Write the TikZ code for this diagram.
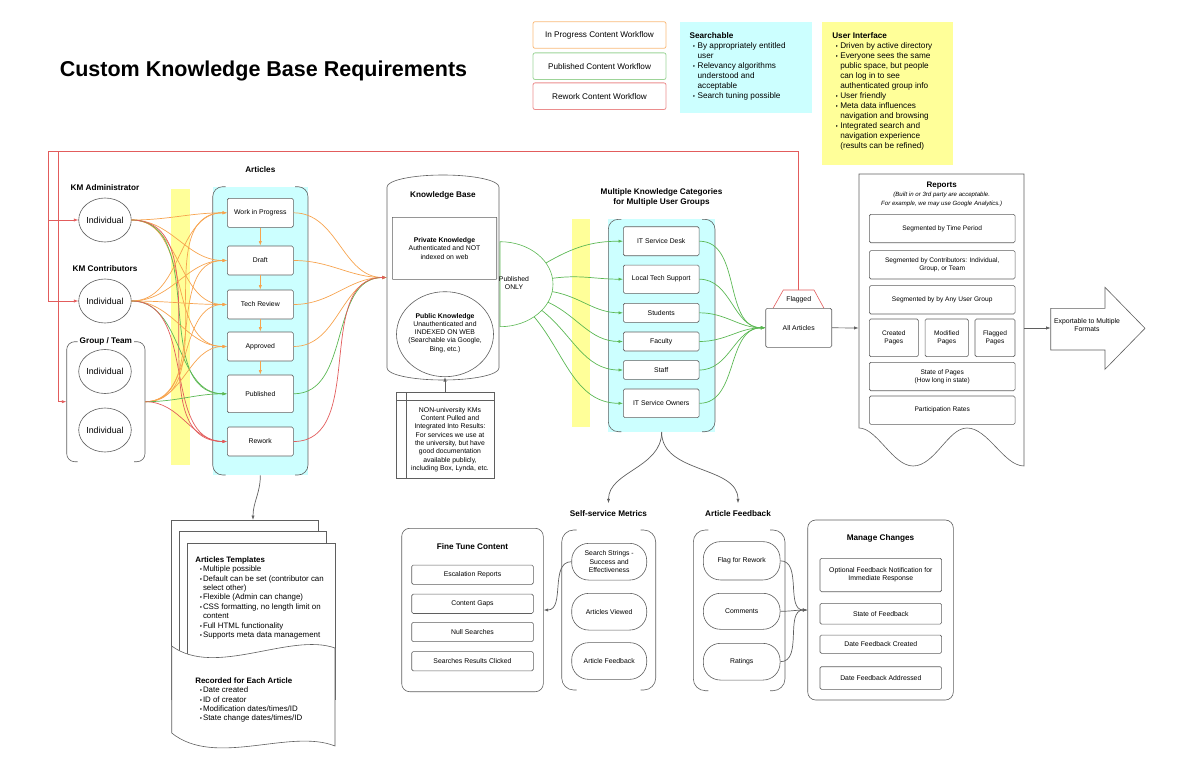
\documentclass[tikz,border=0pt]{standalone}
\usepackage{fontspec}
\setmainfont{Liberation Sans}
\newfontfamily\djv{DejaVu Sans}
\usetikzlibrary{arrows.meta,shapes.geometric}
\definecolor{orng}{RGB}{247,163,78}
\definecolor{grn}{RGB}{92,184,84}
\definecolor{rd}{RGB}{226,92,92}
\definecolor{cyf}{RGB}{204,255,255}
\definecolor{yel}{RGB}{255,255,153}
\definecolor{bord}{RGB}{95,95,95}
\newcommand\fsm{\fontsize{6.85}{8.3}\selectfont}
\newcommand\frp{\fontsize{6.6}{8.3}\selectfont}
\newcommand\fmd{\fontsize{8.2}{10}\selectfont}
\newcommand\fhd{\fontsize{8.2}{10.4}\selectfont\bfseries}
\newcommand\ftp{\fontsize{7.9}{9.4}\selectfont}
\newcommand\tri{{\djv\fontsize{5.5}{5}\selectfont ‣}}
\newcommand\bA{\hspace*{3pt}\makebox[5pt][l]{\tri}}
\newcommand\cA{\hspace*{8pt}}
\newcommand\bB{\hspace*{4.3pt}\makebox[3.4pt][l]{\tri}}
\newcommand\cB{\hspace*{7.7pt}}
\newcommand\bracketpair[5]{%
  \draw[bord,rounded corners=#5pt] (#1+#5+3,#2) -- (#1,#2) -- (#1,#4) -- (#1+#5+3,#4);
  \draw[bord,rounded corners=#5pt] (#3-#5-3,#2) -- (#3,#2) -- (#3,#4) -- (#3-#5-3,#4);}
\begin{document}
\begin{tikzpicture}[x=1pt,y=-1pt,line width=0.6pt,
  >={Latex[length=4.5pt,width=3.2pt]},
  abox/.style={draw=bord,fill=white,rounded corners=1.5pt,font=\fsm,align=center,inner sep=1pt},
  rbox/.style={abox,font=\frp,minimum width=145.7pt},
  hd/.style={font=\fhd,align=center},
  indiv/.style={draw=bord,fill=white,ellipse,minimum width=48pt,minimum height=44pt,inner sep=0pt,font=\fontsize{8.8}{10}\selectfont},
  stad/.style={draw=bord,fill=white,rounded corners=17pt,font=\fsm,align=center,inner sep=1pt},
  legend/.style={rounded corners=2pt,minimum width=133pt,minimum height=26.6pt,font=\fmd,line width=0.8pt},
  oar/.style={draw=orng,line width=0.7pt,->},
  gar/.style={draw=grn,line width=0.7pt,->},
  rar/.style={draw=rd,line width=0.7pt,->},
  kar/.style={draw=bord,line width=0.7pt,->}]
\useasboundingbox (0,0) rectangle (1200,776);

% ---------- title and legend ----------
\node[font=\fontsize{21.5}{24}\selectfont\bfseries] (title) at (263.5,70.7) {Custom Knowledge Base Requirements};
\node[legend,draw=orng!75] (lg1) at (599.5,35) {In Progress Content Workflow};
\node[legend,draw=grn!60] (lg2) at (599.5,66.2) {Published Content Workflow};
\node[legend,draw=rd!70] (lg3) at (599.5,96.2) {Rework Content Workflow};

\node[fill=cyf,minimum width=132pt,minimum height=91pt,inner sep=0] (srch) at (746,67.2) {};
\node[anchor=north west,inner sep=0,font=\fmd,align=left] (srchT) at (689.3,32.4)
 {\textbf{Searchable}\\\bA By appropriately entitled\\\cA user\\\bA Relevancy algorithms\\\cA understood and\\\cA acceptable\\\bA Search tuning possible};

\node[fill=yel,minimum width=131.3pt,minimum height=143.3pt,inner sep=0] (ui) at (887.65,93.35) {};
\node[anchor=north west,inner sep=0,font=\fmd,align=left] (uiT) at (832,32.4)
 {\textbf{User Interface}\\\bA Driven by active directory\\\bA Everyone sees the same\\\cA public space, but people\\\cA can log in to see\\\cA authenticated group info\\\bA User friendly\\\bA Meta data influences\\\cA navigation and browsing\\\bA Integrated search and\\\cA navigation experience\\\cA (results can be refined)};

% ---------- background strips and containers ----------
\fill[yel] (171,189) rectangle (190,465);
\fill[yel] (572,219) rectangle (590,427);
\node[fill=cyf,minimum width=95.3pt,minimum height=288.3pt,inner sep=0] (artc) at (260.35,330.85) {};
\bracketpair{212.7}{186.7}{308}{475}{10}
\node[fill=cyf,minimum width=106.7pt,minimum height=212.4pt,inner sep=0] (catc) at (661.65,325.5) {};
\bracketpair{608.3}{219.3}{715}{431.7}{10}

% ---------- people ----------
\node[hd] (admL) at (105,187.7) {KM Administrator};
\node[indiv] (adm) at (105,220) {Individual};
\node[hd] (conL) at (105,269) {KM Contributors};
\node[indiv] (con) at (105,301) {Individual};
\node[minimum width=78.3pt,minimum height=120pt,inner sep=0] (grp) at (105.85,401.7) {};
\bracketpair{66.7}{341.7}{145}{461.7}{8}
\node[hd] (grpL) at (105.85,341.5) {Group / Team};
\node[indiv] (g1) at (105,371.5) {Individual};
\node[indiv] (g2) at (105,430) {Individual};

% ---------- articles ----------
\node[hd] (artL) at (260.3,170) {Articles};
\node[abox,minimum width=66pt,minimum height=29pt] (wip) at (260.3,212.8) {Work in Progress};
\node[abox,minimum width=66pt,minimum height=29pt] (draft) at (260.3,260.5) {Draft};
\node[abox,minimum width=66pt,minimum height=29pt] (tech) at (260.3,304.5) {Tech Review};
\node[abox,minimum width=66pt,minimum height=29pt] (appr) at (260.3,346.5) {Approved};
\node[abox,minimum width=66pt,minimum height=37.7pt] (publ) at (260.3,393.8) {Published};
\node[abox,minimum width=66pt,minimum height=29pt] (rew) at (260.3,441.5) {Rework};
\draw[oar] (wip.south) -- (draft.north);
\draw[oar] (draft.south) -- (tech.north);
\draw[oar] (tech.south) -- (appr.north);
\draw[oar] (appr.south) -- (publ.north);

% ---------- knowledge base ----------
\draw[bord,fill=white] (387,368) -- (387,187) arc[start angle=180,end angle=360,x radius=56,y radius=12] -- (499,368) arc[start angle=0,end angle=180,x radius=56,y radius=12] -- cycle;
\node[minimum width=112pt,minimum height=205pt,inner sep=0] (kb) at (443,277.5) {};
\node[hd] (kbL) at (443,195.5) {Knowledge Base};
\node[abox,rounded corners=0.5pt,minimum width=104.4pt,minimum height=62pt] (priv) at (444.5,248.3) {\textbf{Private Knowledge}\\Authenticated and NOT\\indexed on web};
\node[draw=bord,fill=white,ellipse,minimum width=97pt,minimum height=85pt,inner sep=0] (pubk) at (445,334.2) {};
\node[font=\fsm,align=center] (pubkT) at (445,332.9) {\textbf{Public Knowledge}\\Unauthenticated and\\INDEXED ON WEB\\(Searchable via Google,\\Bing, etc.)};
\draw[grn,fill=white] (500,241.7) arc[start angle=-90,end angle=90,x radius=53,y radius=42.5] -- cycle;
\node[font=\fsm,align=center] (ponly) at (514,283.3) {Published\\ONLY};
\node[draw=bord,fill=white,minimum width=98pt,minimum height=86pt,inner sep=0] (non) at (445,435) {};
\draw[bord] (406,392) -- (406,478);
\draw[bord] (396,400) -- (494,400);
\node[font=\fsm,align=center] (nonT) at (450,439.5) {NON-university KMs\\Content Pulled and\\Integrated Into Results:\\For services we use at\\the university, but have\\good documentation\\available publicly,\\including Box, Lynda, etc.};
\draw[kar] (non.north) -- (pubk.south);

% ---------- categories ----------
\node[hd] (catL) at (661.5,197.5) {Multiple Knowledge Categories\\for Multiple User Groups};
\node[abox,minimum width=75.7pt,minimum height=29pt] (c1) at (661.2,241.2) {IT Service Desk};
\node[abox,minimum width=75.7pt,minimum height=28.3pt] (c2) at (661.2,279.2) {Local Tech Support};
\node[abox,minimum width=75.7pt,minimum height=19pt] (c3) at (661.2,312.8) {Students};
\node[abox,minimum width=75.7pt,minimum height=19pt] (c4) at (661.2,341.5) {Faculty};
\node[abox,minimum width=75.7pt,minimum height=18.7pt] (c5) at (661.2,370) {Staff};
\node[abox,minimum width=75.7pt,minimum height=28.7pt] (c6) at (661.2,403.3) {IT Service Owners};
\coordinate (p1) at (545.9,263);
\coordinate (p2) at (552.5,278.3);
\coordinate (p3) at (552.2,291.6);
\coordinate (p4) at (548,302.2);
\coordinate (p5) at (541.8,310.4);
\coordinate (p6) at (534.1,316.8);

% ---------- all articles / flagged ----------
\draw[rd,fill=white] (773,308.3) -- (783.3,290) -- (814,290) -- (824,308.3);
\node[font=\fsm] (flag) at (798.7,299.5) {Flagged};
\coordinate (flagtop) at (798.7,290);
\node[abox,minimum width=66pt,minimum height=39pt] (all) at (798.7,327.8) {All Articles};

% ---------- reports ----------
\draw[bord,fill=white] (1024,466) -- (1024,174) -- (859,174) -- (859,428) .. controls (877,428) and (893,466) .. (913,466) .. controls (935,466) and (948,428) .. (967,428) .. controls (988,428) and (1004,466) .. (1024,466) -- cycle;
\node[minimum width=165pt,minimum height=5pt,inner sep=0] (rep) at (941.5,328) {};
\node[font=\fontsize{8}{10}\selectfont\bfseries] (repL) at (941.7,185.3) {Reports};
\node[font=\fontsize{6.1}{9.3}\selectfont\itshape,align=center] (repI) at (941.7,199.7) {(Built in or 3rd party are acceptable.\\For example, we may use Google Analytics.)};
\node[rbox,minimum height=28.4pt] (r1) at (942.2,228.5) {Segmented by Time Period};
\node[rbox,minimum height=28.4pt] (r2) at (942.2,264.8) {Segmented by Contributors: Individual,\\Group, or Team};
\node[rbox,minimum height=28.4pt] (r3) at (942.2,299.8) {Segmented by by Any User Group};
\node[abox,font=\frp,minimum width=49pt,minimum height=37.7pt] (r4) at (893.8,337.8) {Created\\Pages};
\node[abox,font=\frp,minimum width=43.3pt,minimum height=37.7pt] (r5) at (946.7,337.8) {Modified\\Pages};
\node[abox,font=\frp,minimum width=40pt,minimum height=37.7pt] (r6) at (995,337.8) {Flagged\\Pages};
\node[rbox,minimum height=28.4pt] (r7) at (942.2,376.5) {State of Pages\\(How long in state)};
\node[rbox,minimum height=28.4pt] (r8) at (942.2,410.2) {Participation Rates};

\draw[bord,fill=white] (1050.7,308.3) -- (1105,308.3) -- (1105,287.3) -- (1145,328.3) -- (1105,369.3) -- (1105,350) -- (1050.7,350) -- cycle;
\coordinate (expw) at (1050.7,328);
\node[font=\fsm,align=center] (exp) at (1087,325) {Exportable to Multiple\\Formats};

% ---------- templates ----------
\draw[bord,fill=white] (171.7,700) -- (171.7,520) -- (318,520) -- (318,700);
\draw[bord,fill=white] (179.3,700) -- (179.3,531.7) -- (326.7,531.7) -- (326.7,700);
\draw[bord,fill=white] (187.3,700) -- (187.3,543.3) -- (335,543.3) -- (335,700);
\coordinate (tmpltop) at (253,520);
\node[anchor=north west,inner sep=0,font=\ftp,align=left] (tmpl) at (195,556.3)
 {\textbf{Articles Templates}\\\bB Multiple possible\\\bB Default can be set (contributor can\\\cB select other)\\\bB Flexible (Admin can change)\\\bB CSS formatting, no length limit on\\\cB content\\\bB Full HTML functionality\\\bB Supports meta data management};
\draw[bord,fill=white] (171.7,646) .. controls (215,678) and (290,632) .. (335,648) -- (335,746) .. controls (290,728) and (215,768) .. (171.7,733) -- cycle;
\node[anchor=north west,inner sep=0,font=\ftp,align=left] (recT) at (195,677.3)
 {\textbf{Recorded for Each Article}\\\bB Date created\\\bB ID of creator\\\bB Modification dates/times/ID\\\bB State change dates/times/ID};

% ---------- fine tune content ----------
\node[draw=bord,fill=white,rounded corners=8pt,minimum width=141.6pt,minimum height=163.4pt,inner sep=0] (fine) at (472.5,610) {};
\node[hd] (fineL) at (472.5,546.7) {Fine Tune Content};
\node[abox,minimum width=121.6pt,minimum height=19.3pt] (f1) at (472.5,574.7) {Escalation Reports};
\node[abox,minimum width=121.6pt,minimum height=19.3pt] (f2) at (472.5,603.8) {Content Gaps};
\node[abox,minimum width=121.6pt,minimum height=19.3pt] (f3) at (472.5,632) {Null Searches};
\node[abox,minimum width=121.6pt,minimum height=19.3pt] (f4) at (472.5,661.2) {Searches Results Clicked};

% ---------- self-service metrics ----------
\node[hd] (ssmL) at (608.5,514) {Self-service Metrics};
\bracketpair{561.7}{530}{655.7}{690}{12}
\node[stad,minimum width=75pt,minimum height=36.7pt] (s1) at (609.2,561.7) {Search Strings -\\Success and\\Effectiveness};
\node[stad,minimum width=75pt,minimum height=36.7pt] (s2) at (609.2,611.7) {Articles Viewed};
\node[stad,minimum width=75pt,minimum height=36.7pt] (s3) at (609.2,661) {Article Feedback};

% ---------- article feedback ----------
\node[hd] (afL) at (738,514) {Article Feedback};
\bracketpair{693.3}{530}{785}{690.7}{12}
\node[stad,minimum width=76.7pt,minimum height=38.3pt] (a1) at (741.7,560.8) {Flag for Rework};
\node[stad,minimum width=76.7pt,minimum height=36pt] (a2) at (741.7,611.3) {Comments};
\node[stad,minimum width=76.7pt,minimum height=36.7pt] (a3) at (741.7,661.7) {Ratings};

% ---------- manage changes ----------
\node[draw=bord,fill=white,rounded corners=8pt,minimum width=145.6pt,minimum height=180pt,inner sep=0] (mc) at (880.5,610) {};
\node[hd] (mcL) at (880.5,538.3) {Manage Changes};
\node[abox,minimum width=121.7pt,minimum height=33.4pt] (m1) at (880.8,575) {Optional Feedback Notification for\\Immediate Response};
\node[abox,minimum width=121.7pt,minimum height=20.7pt] (m2) at (880.8,613.7) {State of Feedback};
\node[abox,minimum width=121.7pt,minimum height=18.3pt] (m3) at (880.8,644.2) {Date Feedback Created};
\node[abox,minimum width=121.7pt,minimum height=22.6pt] (m4) at (880.8,678) {Date Feedback Addressed};

% ---------- connectors ----------
\foreach \s in {adm.east,con.east,grp.east}{
  \foreach \t in {wip,draft,tech,appr}{\draw[oar] (\s) to[out=0,in=180] (\t.west);}
  \draw[gar] (\s) to[out=0,in=180] (publ.west);
  \draw[rar] (\s) to[out=0,in=180] (rew.west);
}
\foreach \t in {wip,draft,tech,appr}{\draw[oar] (\t.east) to[out=0,in=180] (kb.west);}
\draw[gar] (publ.east) to[out=0,in=180] (kb.west);
\draw[rar] (rew.east) to[out=0,in=180] (kb.west);

\foreach \p/\c/\o in {p1/c1/30,p2/c2/8,p3/c3/-10,p4/c4/-25,p5/c5/-38,p6/c6/-50}{
  \draw[gar] (\p) to[out=\o,in=180] (\c.west);
  \draw[gar] (\c.east) to[out=0,in=180] (all.west);
}

\coordinate (rL) at (48,151.5);
\coordinate (rM) at (58,151.5);
\draw[rd,line width=0.7pt] (flagtop) |- (rL);
\draw[rar] (rL) |- (adm.west);
\draw[rar] (rL) |- (con.west);
\draw[rar] (rM) |- (grp.west);

\draw[kar] (all.east) -- (rep.west);
\draw[kar] (rep.east) -- (expw);

\draw[kar] (artc.south) to[out=-90,in=90] (tmpltop);
\draw[kar,shorten >=4pt] (catc.south) to[out=-90,in=90] (ssmL.north);
\draw[kar,shorten >=4pt] (catc.south) to[out=-90,in=90] (afL.north);
\draw[kar] (s1.west) to[out=180,in=0] (fine.east);
\draw[kar] (a1.east) to[out=0,in=180] (mc.west);
\draw[kar] (a2.east) to[out=0,in=180] (mc.west);
\draw[kar] (a3.east) to[out=0,in=180] (mc.west);
\end{tikzpicture}
\end{document}
